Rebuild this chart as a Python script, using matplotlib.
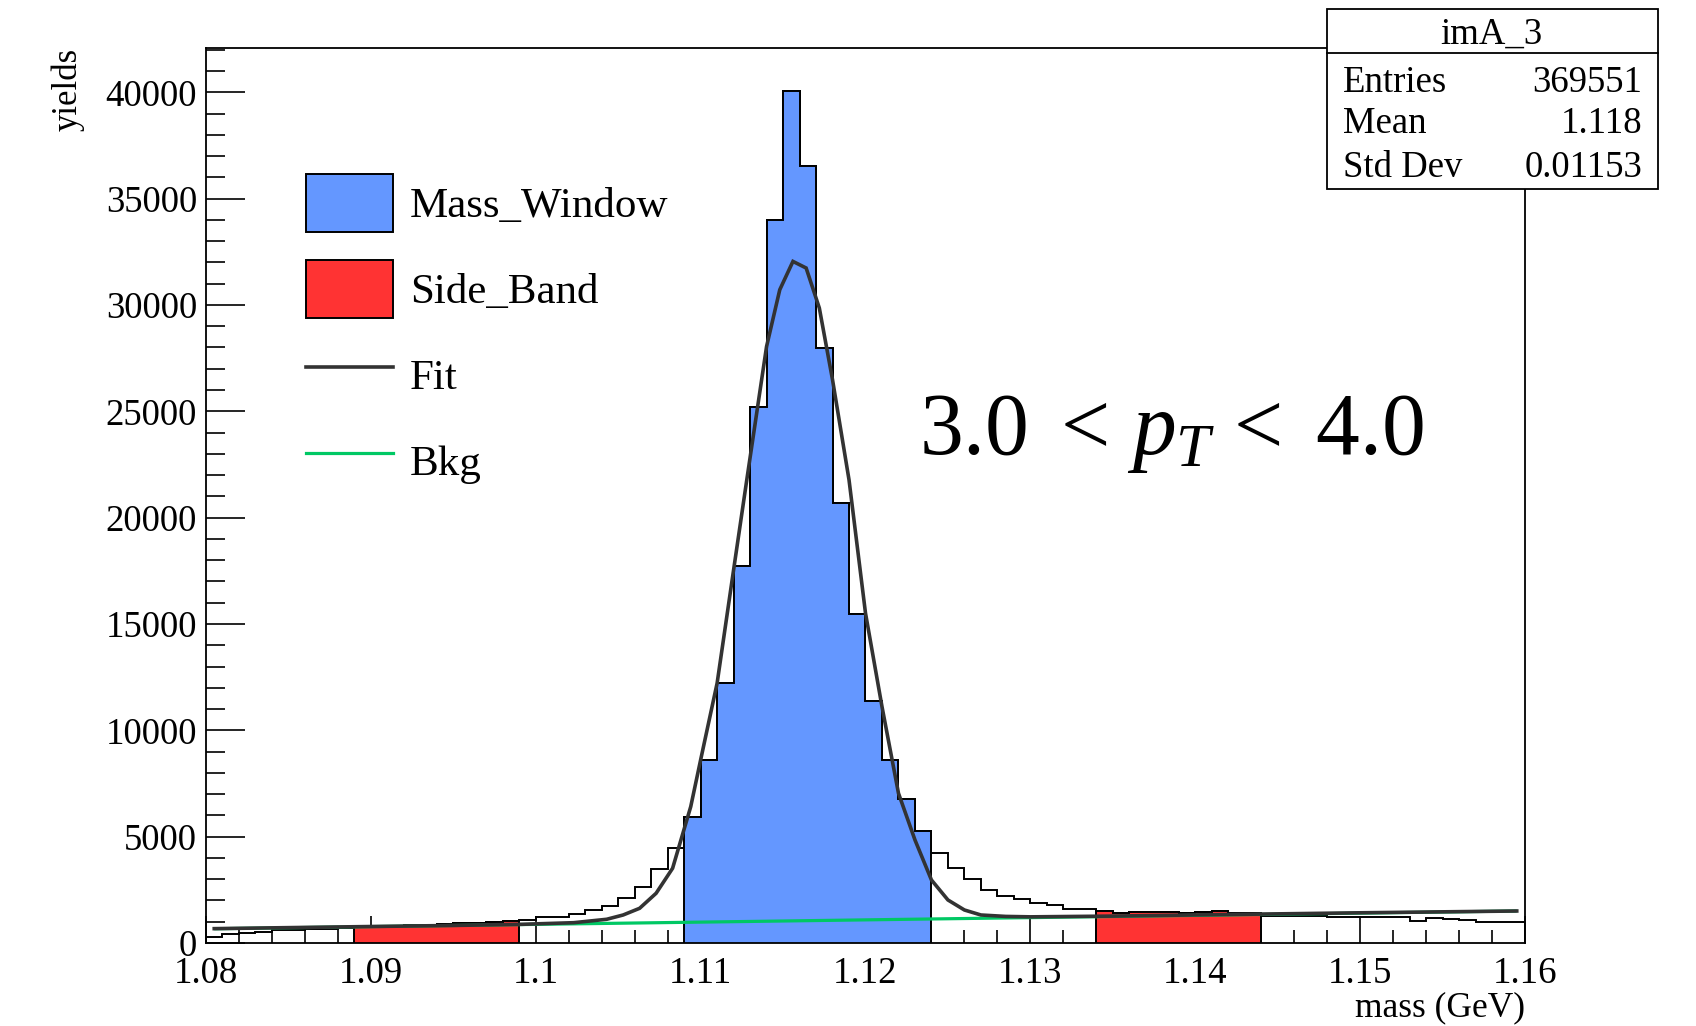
import matplotlib
matplotlib.use('Agg')
import matplotlib.pyplot as plt
import numpy as np
from matplotlib.patches import Patch, Rectangle
from matplotlib.lines import Line2D
from matplotlib.ticker import MultipleLocator, FixedLocator, FixedFormatter

plt.rcParams['font.family'] = ['Liberation Serif', 'DejaVu Serif']
plt.rcParams['mathtext.fontset'] = 'custom'
plt.rcParams['mathtext.rm'] = 'Liberation Serif'
plt.rcParams['mathtext.it'] = 'Liberation Serif:italic'

# ---------------- data ----------------
x_min, x_max, n_bins = 1.08, 1.16, 80
counts = [280, 420, 470, 510, 590, 600, 650, 680, 700, 740,
          770, 800, 830, 860, 890, 925, 955, 1000, 1045, 1082,
          1208, 1240, 1364, 1552, 1740, 2101, 2649, 3465, 4483, 5942,
          8608, 12245, 17734, 25198, 34010, 40077, 36549, 27973, 20683, 15460,
          11383, 8608, 6774, 5250, 4240, 3540, 3010, 2493, 2211, 2054,
          1866, 1772, 1615, 1583, 1505, 1427, 1458, 1474, 1474, 1420,
          1440, 1505, 1400, 1410, 1290, 1280, 1280, 1270, 1240, 1245,
          1239, 1239, 1207, 1019, 1176, 1129, 1082, 1003, 972, 1003]
mass_window = (1.109, 1.124)
side_bands = [(1.089, 1.099), (1.134, 1.144)]

fit_x = [1.0805, 1.090, 1.095, 1.0992, 1.1023, 1.1043, 1.1053, 1.1063, 1.1073, 1.1083,
         1.1094, 1.1100, 1.1110, 1.1120, 1.1128, 1.1140, 1.1148, 1.1156, 1.1164, 1.1172,
         1.1180, 1.1190, 1.1200, 1.1210, 1.1220, 1.1230, 1.1240, 1.1250, 1.1260, 1.1270,
         1.1285, 1.1300, 1.1350, 1.1400, 1.1450, 1.1500, 1.1550, 1.1595]
fit_y = [675, 775, 825, 880, 955, 1115, 1317, 1632, 2338, 3513,
         6411, 8608, 12215, 17545, 21778, 28048, 30715, 32047, 31736, 29854,
         26482, 21778, 15508, 11115, 7041, 4845, 2963, 2023, 1552, 1317,
         1250, 1230, 1265, 1320, 1370, 1420, 1465, 1505]
bkg_x = [1.0805, 1.1595]
bkg_y = [670, 1505]

legend_labels = ['Mass_Window', 'Side_Band', 'Fit', 'Bkg']
xtick_vals = [1.08, 1.09, 1.10, 1.11, 1.12, 1.13, 1.14, 1.15, 1.16]
xtick_labels = ['1.08', '1.09', '1.1', '1.11', '1.12', '1.13', '1.14', '1.15', '1.16']
ytick_vals = [0, 5000, 10000, 15000, 20000, 25000, 30000, 35000, 40000]
ytick_labels = ['0', '5000', '10000', '15000', '20000', '25000', '30000', '35000', '40000']
stats_title = 'imA_3'
stats_rows = [('Entries', '369551'), ('Mean', '1.118'), ('Std Dev', '0.01153')]
pt_text = r'3.0 $\,$< $p_{T}$ < $\,$4.0'

# ---------------- style ----------------
c_blue = '#6497ff'
c_red = '#ff3333'
c_fit = '#333333'
c_bkg = '#00c864'

W, H = 1696, 1026
fig = plt.figure(figsize=(W / 100, H / 100), dpi=100)
ax = fig.add_axes([206 / W, 1 - 943 / H, (1525 - 206) / W, (943 - 48) / H])

edges = np.linspace(x_min, x_max, n_bins + 1)
counts_arr = np.array(counts, dtype=float)
centers = 0.5 * (edges[:-1] + edges[1:])

# full histogram outline
ax.stairs(counts_arr, edges, color='black', lw=1.4, zorder=2)

def draw_region(lo, hi, color):
    sel = (centers > lo) & (centers < hi)
    idx = np.where(sel)[0]
    e = edges[idx[0]: idx[-1] + 2]
    v = counts_arr[idx]
    ax.stairs(v, e, fill=True, facecolor=color, edgecolor='none', zorder=3)
    ax.stairs(v, e, baseline=0, fill=False, color='black', lw=1.4, zorder=3.1)

draw_region(mass_window[0], mass_window[1], c_blue)
for lo, hi in side_bands:
    draw_region(lo, hi, c_red)

ax.plot(bkg_x, bkg_y, color=c_bkg, lw=2.3, zorder=4, solid_capstyle='butt')
ax.plot(fit_x, fit_y, color=c_fit, lw=2.6, zorder=5, solid_joinstyle='miter')

ax.set_xlim(x_min, x_max)
ax.set_ylim(0, max(counts) * 1.05)
ax.set_axisbelow(True)

ax.xaxis.set_major_locator(FixedLocator(xtick_vals))
ax.xaxis.set_major_formatter(FixedFormatter(xtick_labels))
ax.xaxis.set_minor_locator(MultipleLocator(0.002))
ax.yaxis.set_major_locator(FixedLocator(ytick_vals))
ax.yaxis.set_major_formatter(FixedFormatter(ytick_labels))
ax.yaxis.set_minor_locator(MultipleLocator(1000))

ax.tick_params(axis='x', which='major', direction='in', length=19.4, width=1.2, labelsize=26.5, pad=9.5,
               top=False)
ax.tick_params(axis='x', which='minor', direction='in', length=9.7, width=1.2, top=False)
ax.tick_params(axis='y', which='major', direction='in', length=28, width=1.2, labelsize=26.5, pad=6.5,
               right=False)
ax.tick_params(axis='y', which='minor', direction='in', length=14, width=1.2, right=False)
for s in ax.spines.values():
    s.set_linewidth(1.3)
    s.set_zorder(6)

ax.set_xlabel('mass (GeV)', fontsize=25.5, loc='right')
ax.xaxis.set_label_coords(1.0, -0.0545)
ax.set_ylabel('yields', fontsize=25, loc='top')
ax.yaxis.set_label_coords(-0.0919, 1.0)

ax.text(0.5406, 0.5464, pt_text, transform=ax.transAxes, fontsize=63, ha='left', va='baseline')

handles = [Patch(facecolor=c_blue, edgecolor='black', lw=1.4),
           Patch(facecolor=c_red, edgecolor='black', lw=1.4),
           Line2D([], [], color=c_fit, lw=2.6),
           Line2D([], [], color=c_bkg, lw=2.3)]
fig.legend(handles, legend_labels, loc='upper left', bbox_to_anchor=(306 / W, 1 - 174 / H),
           bbox_transform=fig.transFigure, fontsize=31, handlelength=2.02, handleheight=1.68,
           handletextpad=0.40, labelspacing=0.66, borderpad=0, borderaxespad=0, frameon=False)

# stats box
bx0, bx1 = 1327 / W, 1658 / W
by_top, by_bot = 1 - 9 / H, 1 - 189 / H
fig.add_artist(Rectangle((bx0, by_bot), bx1 - bx0, by_top - by_bot, transform=fig.transFigure,
                         facecolor='white', edgecolor='black', lw=1.3, zorder=10))
fig.add_artist(Line2D([bx0, bx1], [1 - 53.3 / H] * 2, transform=fig.transFigure, color='black',
                      lw=1.3, zorder=11))
fig.text(1491.7 / W, 1 - 43.3 / H, stats_title, fontsize=26.5, ha='center', va='baseline', zorder=12)
for (lab, val), yb in zip(stats_rows, [91.7, 133.3, 176.7]):
    fig.text(1343 / W, 1 - yb / H, lab, fontsize=26.5, ha='left', va='baseline', zorder=12)
    fig.text(1642 / W, 1 - yb / H, val, fontsize=26.5, ha='right', va='baseline', zorder=12)

fig.savefig('out.png', dpi=100)
